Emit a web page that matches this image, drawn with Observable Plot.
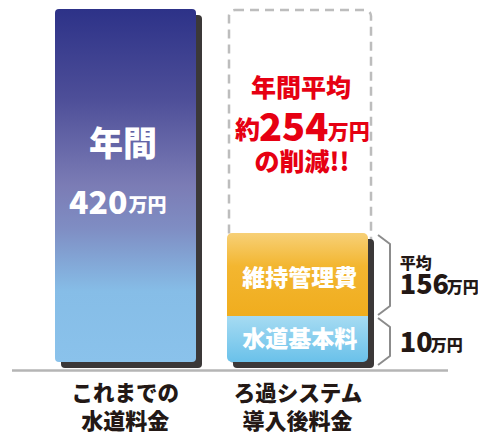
<!DOCTYPE html>
<html><head><meta charset="utf-8">
<script src="https://cdn.jsdelivr.net/npm/d3@7"></script>
<script src="https://cdn.jsdelivr.net/npm/@observablehq/plot@0.6"></script>
<style>
body{margin:0;background:#fff;}
#chart svg{display:block;font-family:"Noto Sans CJK JP","Noto Sans",sans-serif;}
</style>
</head><body><div id="chart"></div>
<script>
// ---- data ----
const categories = ["これまでの水道料金", "ろ過システム導入後料金"];
const categoryLine1 = ["これまでの", "ろ過システム"];
const categoryLine2 = ["水道料金", "導入後料金"];
const currentTotal = 420;                 // 年間 420万円
const segments = ["水道基本料", "維持管理費"];
const segmentValues = [10, 156];          // 万円
const segmentNotes = ["", "平均"];
const savings = 254;                      // 約254万円の削減
const unit = "万円";

// ---- derived tables ----
const ends = Array.from(d3.cumsum(segmentValues));
const starts = ends.map((e, i) => e - segmentValues[i]);
const stackRows = segments.map((s, i) => ({cat: categories[1], name: s, y1: starts[i], y2: ends[i]}));
const barRows = [
  {cat: categories[0], y1: 0, y2: currentTotal},
  {cat: categories[1], y1: 0, y2: ends[ends.length - 1]}
];

const yDomain = [0, ends[0], ends[1], currentTotal];
const yOpts = {type: "linear", domain: yDomain, range: [362, 316, 233, 9], axis: null};
const xOpts = {type: "band", domain: categories, range: [55, 369], paddingInner: 0.18, paddingOuter: 0, axis: null};
const yS = Plot.scale({y: yOpts});
const xS = Plot.scale({x: xOpts});

function defs() {
  const g = d3.create("svg:g");
  const d = g.append("defs");
  const add = (id, stops, attrs) => {
    const lg = d.append("linearGradient").attr("id", id);
    Object.entries(attrs).forEach(([k, v]) => lg.attr(k, v));
    stops.forEach(([o, c]) => lg.append("stop").attr("offset", o).attr("stop-color", c));
  };
  add("gLeft", [[0, "#2d3288"], [0.25, "#4d4e98"], [0.5, "#7b7cb5"], [0.62, "#7f8dc3"], [0.8, "#86bde7"], [1, "#8ac2eb"]],
      {x1: 0, y1: 0, x2: 0, y2: 1});
  add("gOrange", [[0, "#f7d077"], [0.4, "#f3b630"], [1, "#f0ad1e"]],
      {gradientUnits: "userSpaceOnUse", x1: 0, x2: 0, y1: yS.apply(ends[1]), y2: yS.apply(ends[0])});
  add("gBlue", [[0, "#a6dbf2"], [1, "#6ac1ea"]],
      {gradientUnits: "userSpaceOnUse", x1: 0, x2: 0, y1: yS.apply(ends[0]), y2: yS.apply(0)});
  return g.node();
}

function braces() {
  const g = d3.create("svg:g").attr("fill", "none").attr("stroke", "#8c8c8c")
    .attr("stroke-width", 2).attr("stroke-linejoin", "round");
  const right = xS.apply(categories[1]) + xS.bandwidth;
  const x0 = right + 9, x1 = right + 21;
  segments.forEach((s, i) => {
    const t = yS.apply(ends[i]) + 2, b = yS.apply(starts[i]) + (i === 0 ? 3 : -1);
    g.append("path").attr("d", `M${x0},${t}L${x1},${t + 9}L${x1},${b - 9}L${x0},${b}`);
  });
  return g.node();
}

const F = "Noto Sans CJK JP";
function txt(cat, text, o) {
  return Plot.text([text], {
    x: () => cat, text: d => d, frameAnchor: "top", lineAnchor: "bottom",
    textAnchor: o.anchor || "middle", dx: o.dx || 0, dy: o.base,
    fontSize: o.size, fontWeight: 900, fill: o.fill || "#231815", fontFamily: F
  });
}
const c0 = categories[0], c1 = categories[1];
const orangeI = 1, blueI = 0;

const chart = Plot.plot({
  width: 478, height: 435, margin: 0,
  x: xOpts, y: yOpts,
  marks: [
    defs,
    Plot.ruleY([0], {insetLeft: 12, insetRight: 30, dy: 8, stroke: "#b5b5b5", strokeWidth: 2.5}),
    // dashed outline of former cost
    Plot.rectY([{cat: c1, y1: 0, y2: currentTotal}], {x: "cat", y1: "y1", y2: "y2",
      insetLeft: 2, insetRight: -3, insetTop: 1, fill: "none", stroke: "#bdbdbd",
      strokeWidth: 2.5, strokeDasharray: "9,6", rx: 6}),
    // shadows
    Plot.rectY(barRows, {x: "cat", y1: "y1", y2: "y2", dx: 6, dy: 6, fill: "#3b3838", rx: 4}),
    // left bar
    Plot.rectY([barRows[0]], {x: "cat", y1: "y1", y2: "y2", fill: "url(#gLeft)", rx: 4}),
    // right stack
    Plot.rectY([stackRows[orangeI]], {x: "cat", y1: "y1", y2: "y2", fill: "url(#gOrange)", rx: 5}),
    Plot.rectY([stackRows[orangeI]], {x: "cat", y1: "y1", y2: "y2", fill: "url(#gOrange)", insetTop: 6}),
    Plot.rectY([stackRows[blueI]], {x: "cat", y1: "y1", y2: "y2", fill: "url(#gBlue)", rx: 5}),
    Plot.rectY([stackRows[blueI]], {x: "cat", y1: "y1", y2: "y2", fill: "url(#gBlue)", insetBottom: 6}),
    braces,
    // left bar texts
    txt(c0, "年間", {size: 34, base: 155, dx: -3, fill: "#fff"}),
    txt(c0, String(currentTotal), {size: 32, base: 213, dx: 1.5, anchor: "end", fill: "#fff"}),
    txt(c0, unit, {size: 19, base: 211.5, dx: 2.5, anchor: "start", fill: "#fff"}),
    // savings text
    txt(c1, "年間平均", {size: 25, base: 96, dx: 3, fill: "#e60012"}),
    txt(c1, "約", {size: 25, base: 138, dx: -38, anchor: "end", fill: "#e60012"}),
    txt(c1, String(savings), {size: 38, base: 140, dx: -4.3, fill: "#e60012"}),
    txt(c1, unit, {size: 21, base: 138, dx: 29.7, anchor: "start", fill: "#e60012"}),
    txt(c1, "の削減!!", {size: 25, base: 170, dx: 4, fill: "#e60012"}),
    // segment labels
    txt(c1, segments[orangeI], {size: 23, base: 285, dx: 1.7, fill: "#fff"}),
    txt(c1, segments[blueI], {size: 23, base: 346, dx: 1.7, fill: "#fff"}),
    // brace labels
    txt(c1, segmentNotes[orangeI], {size: 16, base: 268, dx: 101.7, anchor: "start"}),
    txt(c1, String(segmentValues[orangeI]), {size: 27, base: 293, dx: 101.7, anchor: "start"}),
    txt(c1, unit, {size: 16, base: 292, dx: 148.7, anchor: "start"}),
    txt(c1, String(segmentValues[blueI]), {size: 27, base: 351, dx: 101.7, anchor: "start"}),
    txt(c1, unit, {size: 16, base: 350, dx: 132.7, anchor: "start"}),
    // category labels
    txt(c0, categoryLine1[0], {size: 21.5, base: 400, dx: -0.8}),
    txt(c0, categoryLine2[0], {size: 22, base: 428, dx: -0.8}),
    txt(c1, categoryLine1[1], {size: 21.5, base: 400, dx: 0}),
    txt(c1, categoryLine2[1], {size: 22, base: 428, dx: -0.5})
  ]
});
document.getElementById("chart").append(chart);
</script>
</body></html>
